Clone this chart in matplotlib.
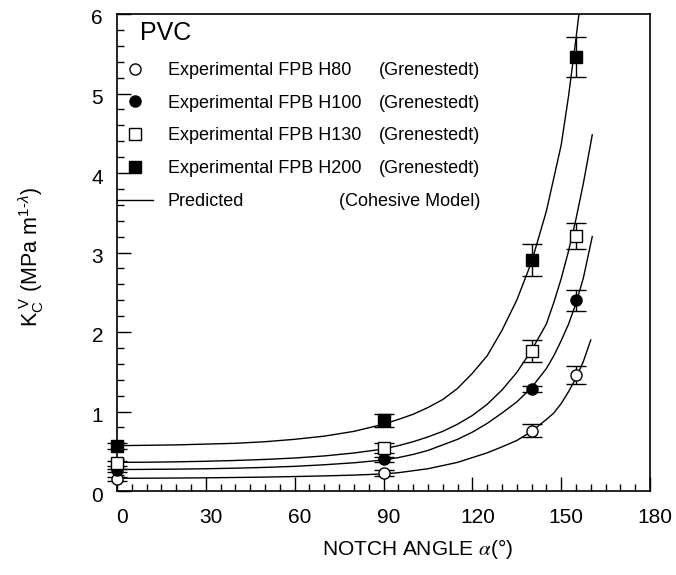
import matplotlib
matplotlib.use("Agg")
import matplotlib.pyplot as plt
import matplotlib.transforms as mtransforms
from matplotlib.lines import Line2D
from matplotlib.ticker import MultipleLocator

plt.rcParams['font.family'] = ['Liberation Sans', 'DejaVu Sans']
plt.rcParams['mathtext.fontset'] = 'custom'
plt.rcParams['mathtext.rm'] = 'Liberation Sans'
plt.rcParams['mathtext.it'] = 'Liberation Sans:italic'

# ---------------- data ----------------
exp_angles = [0, 90, 140, 155]
h80_k = [0.15, 0.23, 0.76, 1.46]
h80_err = [0.02, 0.04, 0.08, 0.11]
h100_k = [0.26, 0.40, 1.28, 2.40]
h100_err = [0.02, 0.03, 0.04, 0.13]
h130_k = [0.35, 0.54, 1.76, 3.21]
h130_err = [0.03, 0.06, 0.135, 0.165]
h200_k = [0.57, 0.89, 2.91, 5.46]
h200_err = [0.04, 0.08, 0.20, 0.25]

pred_h80_x = [0, 10, 20, 30, 40, 50, 60, 70, 80, 90, 95, 100, 105, 110, 115, 120, 125,
              130, 135, 140, 145, 147.5, 150, 152.5, 155, 157.5, 160]
pred_h80_y = [0.16, 0.161, 0.163, 0.166, 0.17, 0.175, 0.182, 0.19, 0.20, 0.215, 0.23,
              0.255, 0.28, 0.32, 0.36, 0.42, 0.48, 0.555, 0.635, 0.75, 0.90, 0.98,
              1.10, 1.25, 1.42, 1.63, 1.90]

pred_h100_x = [0, 10, 20, 30, 40, 50, 60, 70, 80, 90, 95, 100, 105, 110, 115, 120, 125,
               130, 135, 140, 145, 147.5, 150, 152.5, 155, 157.5, 160.5]
pred_h100_y = [0.27, 0.272, 0.275, 0.28, 0.287, 0.297, 0.31, 0.33, 0.355, 0.39, 0.42,
               0.46, 0.51, 0.58, 0.65, 0.74, 0.85, 0.98, 1.12, 1.30, 1.54, 1.70,
               1.89, 2.10, 2.36, 2.68, 3.20]

pred_h130_x = [0, 10, 20, 30, 40, 50, 60, 70, 80, 90, 95, 100, 105, 110, 115, 120, 125,
               130, 135, 140, 145, 147.5, 150, 152.5, 155, 157.5, 160.5]
pred_h130_y = [0.36, 0.362, 0.367, 0.374, 0.384, 0.397, 0.415, 0.441, 0.478, 0.528, 0.57,
               0.62, 0.68, 0.75, 0.84, 0.95, 1.09, 1.27, 1.49, 1.77, 2.10, 2.37,
               2.67, 3.02, 3.42, 3.87, 4.48]

pred_h200_x = [0, 10, 20, 30, 40, 50, 60, 70, 80, 90, 95, 100, 105, 110, 115, 120, 125,
               130, 135, 140, 145, 150, 152.5, 155, 156, 157.5]
pred_h200_y = [0.57, 0.575, 0.58, 0.59, 0.60, 0.62, 0.65, 0.69, 0.75, 0.84, 0.90,
               0.965, 1.05, 1.15, 1.29, 1.48, 1.70, 2.02, 2.40, 2.88, 3.52, 4.35,
               4.97, 5.69, 6.0, 6.57]

legend_labels = ["Experimental FPB H80", "Experimental FPB H100",
                 "Experimental FPB H130", "Experimental FPB H200", "Predicted"]
legend_sources = ["(Grenestedt)", "(Grenestedt)", "(Grenestedt)", "(Grenestedt)", "(Cohesive Model)"]

x_ticks = [0, 30, 60, 90, 120, 150, 180]
y_ticks = [0, 1, 2, 3, 4, 5, 6]

# ---------------- figure ----------------
fig = plt.figure(figsize=(6.76, 5.75), dpi=100)
ax = fig.add_axes([117/676, 1-491/575, (650-117)/676, (491-14)/575])

for xs, ys in [(pred_h80_x, pred_h80_y), (pred_h100_x, pred_h100_y),
               (pred_h130_x, pred_h130_y), (pred_h200_x, pred_h200_y)]:
    ax.plot(xs, ys, color='black', lw=1.0, zorder=2, solid_joinstyle='round')

styles = [
    (h80_k, h80_err, 'o', 'white'),
    (h100_k, h100_err, 'o', 'black'),
    (h130_k, h130_err, 's', 'white'),
    (h200_k, h200_err, 's', 'black'),
]
handles = []
for k, err, m, fc in styles:
    ax.errorbar(exp_angles, k, yerr=err, fmt='none', ecolor='black',
                elinewidth=1.0, capsize=7, capthick=1.0, zorder=3, clip_on=False)
    ax.plot(exp_angles, k, linestyle='none', marker=m, markersize=8,
            markerfacecolor=fc, markeredgecolor='black', markeredgewidth=1.0,
            zorder=4, clip_on=False)
    handles.append(Line2D([], [], linestyle='none', marker=m, markersize=8,
                          markerfacecolor=fc, markeredgecolor='black',
                          markeredgewidth=1.0))
handles.append(Line2D([], [], color='black', lw=1.0))

ax.set_xlim(0, 180)
ax.set_ylim(0, 6)
ax.set_xticks(x_ticks)
ax.set_yticks(y_ticks)
ax.xaxis.set_minor_locator(MultipleLocator(5))
ax.yaxis.set_minor_locator(MultipleLocator(0.2))
ax.tick_params(which='both', direction='in', top=False, right=False,
               labelsize=15, width=1.0)
ax.tick_params(axis='x', which='major', length=10, pad=12)
ax.tick_params(axis='y', which='major', length=10, pad=10)
ax.tick_params(which='minor', length=5)
for sp in ax.spines.values():
    sp.set_linewidth(1.2)

# shift tick labels slightly like the reference
off_x = mtransforms.ScaledTranslation(5/100, 0, fig.dpi_scale_trans)
for lab in ax.get_xticklabels():
    lab.set_transform(lab.get_transform() + off_x)
off_y = mtransforms.ScaledTranslation(0, -3/100, fig.dpi_scale_trans)
for lab in ax.get_yticklabels():
    lab.set_transform(lab.get_transform() + off_y)

ax.set_xlabel('NOTCH ANGLE $\\alpha$(°)', fontsize=15, math_fontfamily='stix')
ax.xaxis.set_label_coords(0.563, -0.096)
ax.set_ylabel('K$_{\\mathrm{C}}^{\\ \\mathrm{V}}$ (MPa m$^{\\mathrm{1\\text{-}}\\lambda}$)', fontsize=15.5)
ax.yaxis.set_label_coords(-0.134, 0.49)

leg = ax.legend(handles, legend_labels, loc='upper left',
                bbox_to_anchor=(0.0, 1 - (62 - 14) / 477), frameon=False,
                fontsize=13, handlelength=2.0, handletextpad=0.8,
                borderpad=0, borderaxespad=0, labelspacing=0.87)

ax.text((140 - 117) / 533, 1 - (33 - 14) / 477, 'PVC', fontsize=18,
        transform=ax.transAxes, ha='left', va='center')

fig.canvas.draw()
inv = ax.transAxes.inverted()
for t, src in zip(leg.get_texts(), legend_sources):
    bb = t.get_window_extent()
    yc = (bb.y0 + bb.y1) / 2
    _, ya = inv.transform((0, yc))
    ax.text((480 - 117) / 533, ya, src, fontsize=13, transform=ax.transAxes,
            ha='right', va='center')

fig.savefig('out.png', dpi=100)
